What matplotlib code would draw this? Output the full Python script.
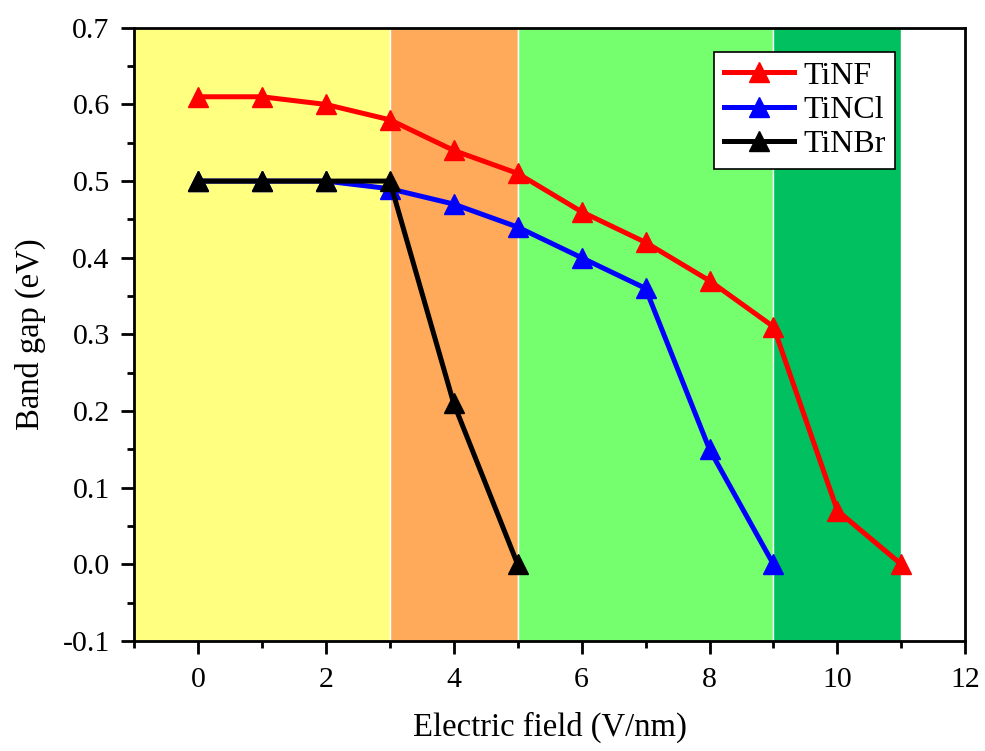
import matplotlib.pyplot as plt
from matplotlib.ticker import MultipleLocator

plt.rcParams['font.family'] = ['Liberation Serif', 'DejaVu Serif']

# band gap vs field
x_nf = [0, 1, 2, 3, 4, 5, 6, 7, 8, 9, 10, 11]
gap_nf = [0.61, 0.61, 0.60, 0.58, 0.54, 0.51, 0.46, 0.42, 0.37, 0.31, 0.07, 0.0]
x_ncl = [0, 1, 2, 3, 4, 5, 6, 7, 8, 9]
gap_ncl = [0.50, 0.50, 0.50, 0.49, 0.47, 0.44, 0.40, 0.36, 0.15, 0.0]
x_nbr = [0, 1, 2, 3, 4, 5]
gap_nbr = [0.50, 0.50, 0.50, 0.50, 0.21, 0.0]

# shaded regions
band_edges = [(-1, 3), (3, 5), (5, 9), (9, 11)]
band_colors = ['#FFFF80', '#FFAA5A', '#75FF6F', '#00C060']

fig = plt.figure(figsize=(9.85, 7.51), dpi=100)
ax = fig.add_axes([0.136, 0.1465, 0.844, 0.8165])

for (a, b), c in zip(band_edges, band_colors):
    ax.axvspan(a, b, color=c, ec='white', lw=1, zorder=0)

ax.plot(x_nf, gap_nf, '-^', color='red', lw=3.6, ms=15, label='TiNF')
ax.plot(x_ncl, gap_ncl, '-^', color='blue', lw=3.6, ms=15, label='TiNCl')
ax.plot(x_nbr, gap_nbr, '-^', color='black', lw=3.6, ms=15, label='TiNBr')

ax.set_xlim(-1, 12)
ax.set_ylim(-0.1, 0.7)
ax.xaxis.set_major_locator(MultipleLocator(2))
ax.xaxis.set_minor_locator(MultipleLocator(1))
ax.yaxis.set_major_locator(MultipleLocator(0.1))
ax.yaxis.set_minor_locator(MultipleLocator(0.05))
ax.yaxis.set_major_formatter(plt.FuncFormatter(lambda v, p: f'{v:.1f}'))
ax.tick_params(which='both', direction='out', width=2, labelsize=21.5)
ax.tick_params(which='major', length=9.5)
ax.tick_params(which='minor', length=5)
ax.tick_params(axis='x', pad=9)
ax.tick_params(axis='y', pad=8)
for s in ax.spines.values():
    s.set_linewidth(2)

ax.set_xlabel('Electric field (V/nm)', fontsize=23.5, labelpad=14)
ax.set_ylabel('Band gap (eV)', fontsize=23.5, labelpad=12)

leg = ax.legend(loc='upper right', bbox_to_anchor=(0.916, 0.961), fontsize=23,
                fancybox=False, edgecolor='black', framealpha=1,
                handlelength=2.2, borderpad=0.3, labelspacing=0.15, handletextpad=0.3,
                borderaxespad=0)
leg.get_frame().set_linewidth(1.2)

plt.savefig('out.png')
